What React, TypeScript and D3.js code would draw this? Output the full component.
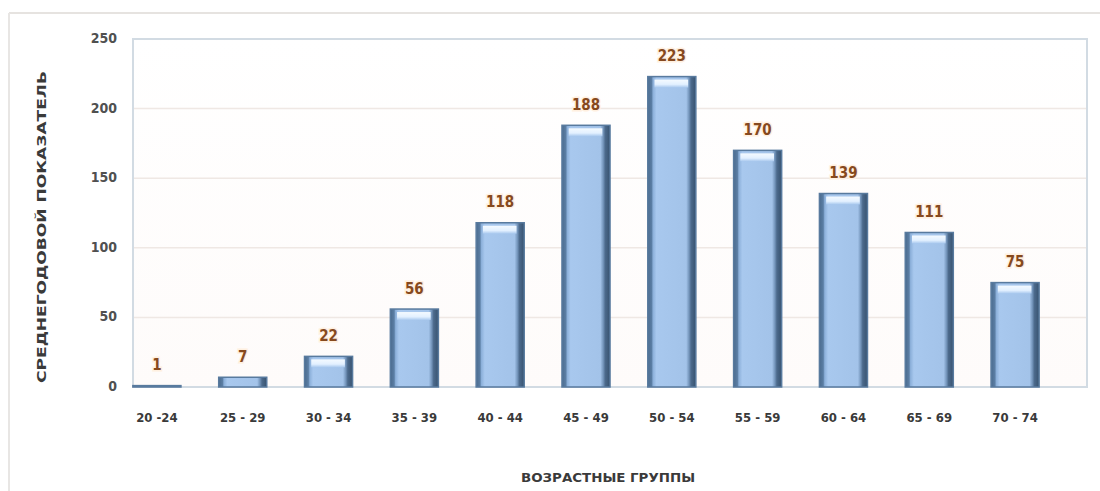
import { useEffect, useRef } from 'react';
import * as d3 from 'd3';

const ageGroups = ['20 -24', '25 - 29', '30 - 34', '35 - 39', '40 - 44', '45 - 49', '50 - 54', '55 - 59', '60 - 64', '65 - 69', '70 - 74'];
const avgValues = [1, 7, 22, 56, 118, 188, 223, 170, 139, 111, 75];
const yTicks = [0, 50, 100, 150, 200, 250];
const yTitle = 'СРЕДНЕГОДОВОЙ ПОКАЗАТЕЛЬ';
const xTitle = 'ВОЗРАСТНЫЕ ГРУППЫ';

const W = 1100;
const H = 491;

export default function App() {
  const svgRef = useRef<SVGSVGElement>(null);

  useEffect(() => {
    if (!svgRef.current) return;
    const svg = d3.select(svgRef.current);
    svg.selectAll('*').remove();

    const font = '"DejaVu Sans Condensed", "DejaVu Sans", sans-serif';
    const plot = { left: 133, right: 1087, top: 39, bottom: 387 };

    // Scales
    const x = d3.scaleBand<string>()
      .domain(ageGroups)
      .range([114, 1058])
      .paddingInner(0.44)
      .paddingOuter(0.22);

    const y = d3.scaleLinear()
      .domain([0, 250])
      .range([plot.bottom, plot.top]);

    // Gradients
    const defs = svg.append('defs');
    const bgGrad = defs.append('linearGradient').attr('id', 'bg').attr('x1', 0).attr('x2', 0).attr('y1', 0).attr('y2', 1);
    bgGrad.append('stop').attr('offset', '0%').attr('stop-color', '#ffffff');
    bgGrad.append('stop').attr('offset', '100%').attr('stop-color', '#fefbfa');

    const barGrad = defs.append('linearGradient').attr('id', 'bar').attr('x1', 0).attr('x2', 1).attr('y1', 0).attr('y2', 0);
    barGrad.append('stop').attr('offset', '0%').attr('stop-color', '#4b6b8e');
    barGrad.append('stop').attr('offset', '8%').attr('stop-color', '#5b7ea4');
    barGrad.append('stop').attr('offset', '11%').attr('stop-color', '#8cb0da');
    barGrad.append('stop').attr('offset', '18%').attr('stop-color', '#a8c8ee');
    barGrad.append('stop').attr('offset', '80%').attr('stop-color', '#a3c3e9');
    barGrad.append('stop').attr('offset', '86%').attr('stop-color', '#7394ba');
    barGrad.append('stop').attr('offset', '90%').attr('stop-color', '#4c6a8c');
    barGrad.append('stop').attr('offset', '100%').attr('stop-color', '#37526f');

    const hiGrad = defs.append('linearGradient').attr('id', 'hi').attr('x1', 0).attr('x2', 0).attr('y1', 0).attr('y2', 1);
    hiGrad.append('stop').attr('offset', '0%').attr('stop-color', '#f4faff');
    hiGrad.append('stop').attr('offset', '60%').attr('stop-color', '#e2f0ff');
    hiGrad.append('stop').attr('offset', '100%').attr('stop-color', '#a8c8ee');

    // Outer frame
    svg.append('line')
      .attr('x1', 9).attr('x2', W).attr('y1', 13).attr('y2', 13)
      .attr('stroke', '#e6e3e0').attr('stroke-width', 2);
    svg.append('line')
      .attr('x1', 9).attr('x2', 9).attr('y1', 13).attr('y2', H)
      .attr('stroke', '#e8e6e4').attr('stroke-width', 2);

    // Plot area
    svg.append('rect')
      .attr('x', plot.left).attr('y', plot.top)
      .attr('width', plot.right - plot.left).attr('height', plot.bottom - plot.top)
      .attr('fill', 'url(#bg)');

    // Grid
    svg.append('g')
      .selectAll('line')
      .data(yTicks.slice(1, -1))
      .join('line')
      .attr('x1', plot.left).attr('x2', plot.right)
      .attr('y1', d => y(d)).attr('y2', d => y(d))
      .attr('stroke', '#efe8e4').attr('stroke-width', 1.5);

    svg.append('rect')
      .attr('x', plot.left).attr('y', plot.top)
      .attr('width', plot.right - plot.left).attr('height', plot.bottom - plot.top)
      .attr('fill', 'none')
      .attr('stroke', '#d2dbe3').attr('stroke-width', 2);

    // Bars
    const bars = svg.append('g')
      .selectAll('g')
      .data(avgValues)
      .join('g')
      .attr('transform', (_, i) => `translate(${x(ageGroups[i])},0)`);

    const bw = x.bandwidth();

    bars.append('rect')
      .attr('x', 0)
      .attr('y', d => y(d))
      .attr('width', bw)
      .attr('height', d => y(0) - y(d))
      .attr('fill', 'url(#bar)')
      .attr('stroke', '#587a9e')
      .attr('stroke-width', 1.5);

    // top highlight
    bars.filter(d => d >= 10)
      .append('rect')
      .attr('x', bw * 0.14)
      .attr('y', d => y(d) + 3)
      .attr('width', bw * 0.7)
      .attr('height', 8)
      .attr('fill', 'url(#hi)');

    // Value labels
    svg.append('g')
      .selectAll('text')
      .data(avgValues)
      .join('text')
      .attr('x', (_, i) => (x(ageGroups[i]) ?? 0) + bw / 2)
      .attr('y', d => y(d) - 20)
      .attr('text-anchor', 'middle')
      .attr('dominant-baseline', 'middle')
      .attr('font-family', font)
      .attr('font-weight', 'bold')
      .attr('font-size', 15)
      .attr('fill', '#86491e')
      .attr('stroke', '#fff0e0')
      .attr('stroke-width', 3)
      .attr('paint-order', 'stroke')
      .text(d => d);

    // Y ticks
    svg.append('g')
      .selectAll('text')
      .data(yTicks)
      .join('text')
      .attr('x', 117)
      .attr('y', d => y(d))
      .attr('text-anchor', 'end')
      .attr('dominant-baseline', 'middle')
      .attr('font-family', font)
      .attr('font-weight', 'bold')
      .attr('font-size', 14)
      .attr('fill', '#505050')
      .text(d => d);

    // X ticks
    svg.append('g')
      .selectAll('text')
      .data(ageGroups)
      .join('text')
      .attr('x', d => (x(d) ?? 0) + bw / 2)
      .attr('y', 418)
      .attr('text-anchor', 'middle')
      .attr('dominant-baseline', 'middle')
      .attr('font-family', font)
      .attr('font-weight', 'bold')
      .attr('font-size', 13)
      .attr('fill', '#3a3a3a')
      .text(d => d);

    // Axis titles
    svg.append('text')
      .attr('transform', `translate(42,${(70 + 384) / 2}) rotate(-90)`)
      .attr('text-anchor', 'middle')
      .attr('dominant-baseline', 'middle')
      .attr('font-family', font)
      .attr('font-weight', 'bold')
      .attr('font-size', 13)
      .attr('fill', '#3a3a3a')
      .attr('textLength', 312)
      .attr('lengthAdjust', 'spacingAndGlyphs')
      .text(yTitle);

    svg.append('text')
      .attr('x', 608)
      .attr('y', 478)
      .attr('text-anchor', 'middle')
      .attr('dominant-baseline', 'middle')
      .attr('font-family', font)
      .attr('font-weight', 'bold')
      .attr('font-size', 13)
      .attr('fill', '#3a3a3a')
      .attr('textLength', 174)
      .attr('lengthAdjust', 'spacingAndGlyphs')
      .text(xTitle);
  }, []);

  return (
    <svg
      ref={svgRef}
      width={W}
      height={H}
      style={{ position: 'absolute', left: 0, top: 0, background: '#fff' }}
    />
  );
}
